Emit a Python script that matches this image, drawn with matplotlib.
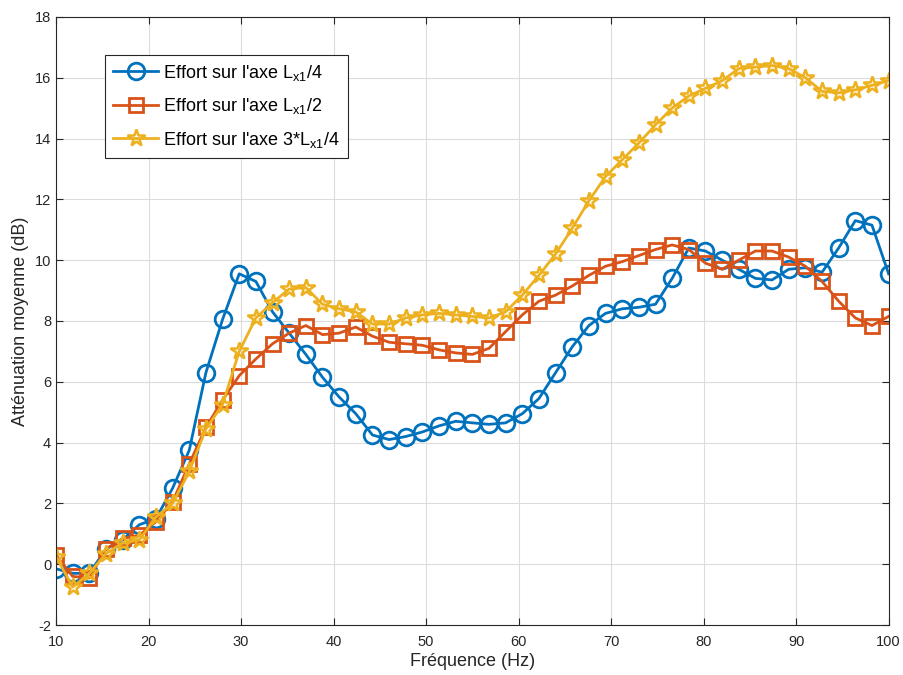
import numpy as np
import matplotlib
matplotlib.use('Agg')
import matplotlib.pyplot as plt

plt.rcParams['font.family'] = ['Liberation Sans', 'DejaVu Sans']
plt.rcParams['axes.unicode_minus'] = False

freq = np.linspace(10, 100, 51)

att_quart = [-0.15, -0.3, -0.3, 0.5, 0.8, 1.3, 1.5, 2.5, 3.75, 6.3,
             8.05, 9.55, 9.3, 8.3, 7.6, 6.9, 6.15, 5.5, 4.95, 4.25,
             4.1, 4.2, 4.35, 4.55, 4.7, 4.65, 4.6, 4.65, 4.95, 5.45,
             6.3, 7.15, 7.85, 8.25, 8.4, 8.45, 8.55, 9.4, 10.4, 10.3,
             10.0, 9.7, 9.4, 9.35, 9.7, 9.75, 9.6, 10.4, 11.3, 11.15,
             9.55]
att_demi = [0.3, -0.4, -0.45, 0.5, 0.85, 0.95, 1.4, 2.05, 3.3, 4.5,
            5.4, 6.2, 6.75, 7.25, 7.6, 7.85, 7.55, 7.6, 7.8, 7.5,
            7.3, 7.25, 7.2, 7.05, 6.95, 6.9, 7.1, 7.65, 8.2, 8.65,
            8.85, 9.15, 9.5, 9.8, 9.95, 10.15, 10.35, 10.5, 10.35, 9.9,
            9.7, 10.0, 10.3, 10.3, 10.1, 9.8, 9.3, 8.65, 8.1, 7.85,
            8.15]
att_trois_quart = [0.25, -0.75, -0.3, 0.35, 0.7, 0.8, 1.55, 2.0, 3.05, 4.45,
                   5.25, 7.0, 8.1, 8.6, 9.05, 9.1, 8.55, 8.4, 8.3, 7.9,
                   7.9, 8.1, 8.2, 8.25, 8.2, 8.15, 8.1, 8.3, 8.85, 9.5,
                   10.2, 11.05, 11.95, 12.75, 13.3, 13.85, 14.45, 15.0, 15.4, 15.65,
                   15.9, 16.3, 16.35, 16.4, 16.3, 16.0, 15.55, 15.5, 15.6, 15.75,
                   15.9]

labels = ["Effort sur l'axe L$\\mathregular{_{x1}}$/4",
          "Effort sur l'axe L$\\mathregular{_{x1}}$/2",
          "Effort sur l'axe 3*L$\\mathregular{_{x1}}$/4"]

fig = plt.figure(figsize=(9.04, 6.75), dpi=100)
ax = fig.add_axes([0.062, 0.074, 0.921, 0.901])

ax.plot(freq, att_quart, '-o', color='#0072BD', lw=2, ms=12, mfc='none', mew=2, label=labels[0])
ax.plot(freq, att_demi, '-s', color='#D95319', lw=2, ms=10, mfc='none', mew=2, label=labels[1])
ax.plot(freq, att_trois_quart, '-*', color='#EDB120', lw=2, ms=13, mfc='none', mew=1.8, label=labels[2])

ax.set_xlim(10, 100)
ax.set_ylim(-2, 18)
ax.set_xticks(np.arange(10, 101, 10))
ax.set_yticks(np.arange(-2, 19, 2))
ax.grid(True, color='#dcdcdc', lw=0.8)
ax.set_axisbelow(True)
ax.tick_params(direction='in', top=True, right=True, labelsize=10.5, colors='#262626', length=5)
ax.tick_params(axis='x', pad=7)
for s in ax.spines.values():
    s.set_color('#262626')
    s.set_linewidth(0.8)

ax.set_xlabel('Fréquence (Hz)', fontsize=13, color='#262626', labelpad=3)
ax.set_ylabel('Atténuation moyenne (dB)', fontsize=13, color='#262626', labelpad=4)

leg = ax.legend(loc='upper left', bbox_to_anchor=(0.059, 0.938), fontsize=13,
                fancybox=False, framealpha=1, edgecolor='#262626',
                handlelength=2.5, borderpad=0.45, labelspacing=0.75, handletextpad=0.25,
                borderaxespad=0)
leg.get_frame().set_linewidth(0.8)

fig.savefig('out.png', dpi=100)
